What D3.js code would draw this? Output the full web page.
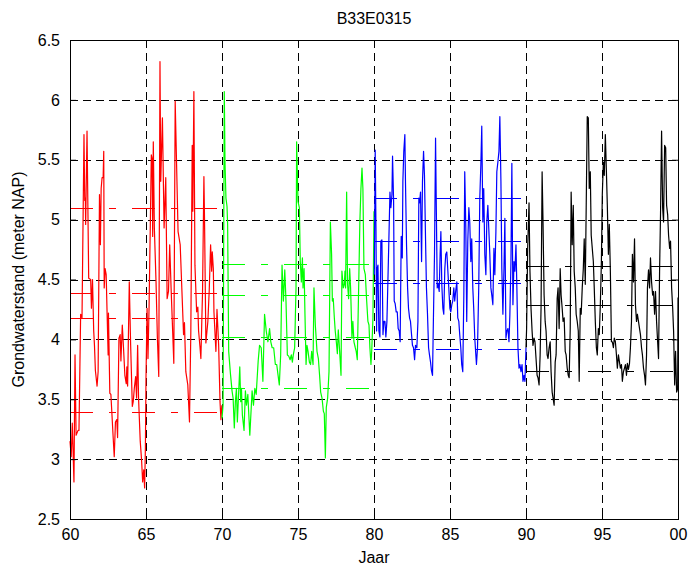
<!DOCTYPE html>
<html>
<head>
<meta charset="utf-8">
<script src="https://cdn.jsdelivr.net/npm/d3@7"></script>
<style>
  body { margin: 0; background: #fff; }
  svg { display: block; }
  text { font-family: "Liberation Sans", Arial, Helvetica, sans-serif; fill: #000; }
</style>
</head>
<body>
<svg id="chart" width="689" height="565"></svg>
<script>
// Labels and ticks
const title = "B33E0315";
const xLabel = "Jaar";
const yLabel = "Grondwaterstand (meter NAP)";
const xTicks = [60, 65, 70, 75, 80, 85, 90, 95, 100];
const xTickLabels = ["60", "65", "70", "75", "80", "85", "90", "95", "00"];
const yTicks = [2.5, 3, 3.5, 4, 4.5, 5, 5.5, 6, 6.5];
const yTickLabels = ["2.5", "3", "3.5", "4", "4.5", "5", "5.5", "6", "6.5"];

// Groundwater level per decade: [year, level (m NAP)]
const series60 = [[60.00,3.15],[60.08,3.02],[60.15,3.30],[60.26,2.81],[60.33,3.87],[60.40,3.20],[60.53,3.24],[60.59,3.24],[60.70,4.21],[60.79,4.18],[60.92,5.71],[60.97,5.16],[61.01,5.18],[61.03,4.96],[61.12,5.74],[61.23,4.51],[61.36,4.50],[61.41,4.26],[61.48,4.50],[61.56,4.07],[61.61,3.95],[61.67,3.74],[61.78,3.61],[61.85,3.73],[61.94,5.21],[62.00,4.79],[62.05,5.26],[62.11,5.35],[62.18,5.35],[62.22,5.57],[62.25,4.43],[62.31,4.59],[62.38,4.54],[62.44,4.22],[62.51,3.87],[62.53,4.22],[62.62,3.55],[62.69,3.54],[62.84,3.18],[62.91,3.02],[62.99,3.31],[63.08,3.33],[63.13,3.18],[63.22,4.01],[63.30,4.04],[63.35,3.82],[63.44,4.12],[63.52,3.93],[63.61,3.70],[63.70,3.63],[63.74,3.77],[63.79,3.61],[63.90,4.48],[63.99,3.95],[64.10,3.44],[64.16,3.48],[64.23,3.59],[64.32,3.69],[64.38,3.51],[64.45,3.95],[64.51,3.51],[64.62,3.15],[64.71,2.99],[64.78,2.81],[64.85,2.91],[64.91,2.76],[64.96,3.09],[65.00,3.68],[65.07,4.26],[65.13,3.84],[65.20,4.26],[65.24,4.59],[65.29,5.01],[65.35,5.54],[65.40,5.51],[65.44,4.86],[65.48,5.65],[65.55,4.93],[65.66,4.48],[65.75,4.01],[65.84,3.69],[65.92,6.32],[65.97,5.32],[66.08,5.85],[66.19,4.93],[66.30,5.35],[66.39,4.34],[66.48,4.40],[66.56,4.79],[66.65,4.43],[66.83,3.80],[66.92,5.99],[67.11,4.90],[67.25,4.79],[67.47,4.04],[67.53,4.14],[67.62,3.73],[67.75,3.62],[67.86,3.31],[67.95,4.07],[68.04,5.62],[68.08,5.07],[68.15,6.07],[68.22,4.62],[68.33,4.23],[68.41,4.27],[68.46,4.07],[68.55,3.94],[68.61,3.84],[68.72,4.40],[68.81,5.36],[68.85,5.01],[68.94,3.97],[69.07,4.15],[69.16,4.41],[69.25,4.79],[69.32,4.57],[69.36,4.73],[69.43,4.59],[69.47,4.23],[69.60,3.90],[69.67,4.25],[69.78,3.95],[69.87,3.48],[69.93,3.33],[69.99,3.45]];

const series70 = [[70.00,3.34],[70.07,3.45],[70.15,6.07],[70.20,5.46],[70.26,5.18],[70.33,5.11],[70.37,4.96],[70.44,3.90],[70.55,3.72],[70.66,3.57],[70.73,3.51],[70.81,3.26],[70.88,3.48],[70.95,3.59],[71.01,3.31],[71.17,3.77],[71.23,3.48],[71.28,3.59],[71.34,3.37],[71.45,3.24],[71.54,3.57],[71.61,3.45],[71.70,3.54],[71.83,3.20],[71.98,3.57],[72.07,3.45],[72.16,3.59],[72.25,3.54],[72.38,3.82],[72.47,3.95],[72.58,3.93],[72.69,3.65],[72.80,4.21],[72.91,4.07],[73.02,3.98],[73.13,4.09],[73.21,3.98],[73.30,3.93],[73.40,3.93],[73.51,3.79],[73.60,3.79],[73.69,3.70],[73.77,3.62],[73.86,3.87],[73.95,4.62],[74.04,4.32],[74.13,4.58],[74.21,4.32],[74.30,3.87],[74.39,3.86],[74.48,3.83],[74.56,3.87],[74.63,3.81],[74.69,3.87],[74.78,3.93],[74.87,4.43],[74.91,5.65],[75.00,5.15],[75.09,5.10],[75.15,4.65],[75.22,4.48],[75.29,4.68],[75.33,4.43],[75.40,4.59],[75.46,4.20],[75.53,3.79],[75.59,3.95],[75.66,3.90],[75.75,3.81],[75.83,3.79],[75.90,3.90],[75.99,3.79],[76.05,4.43],[76.14,4.12],[76.25,3.90],[76.34,3.84],[76.42,3.70],[76.49,3.56],[76.58,3.51],[76.67,3.40],[76.73,3.38],[76.80,3.01],[76.86,3.43],[76.95,3.51],[77.04,3.73],[77.13,4.98],[77.21,4.71],[77.26,4.32],[77.32,4.34],[77.39,4.18],[77.45,4.07],[77.52,3.98],[77.59,3.88],[77.65,4.08],[77.74,3.90],[77.83,3.70],[77.89,4.57],[77.98,4.43],[78.05,4.46],[78.09,4.57],[78.13,4.43],[78.20,5.23],[78.26,4.46],[78.33,4.34],[78.40,4.59],[78.46,4.43],[78.55,4.01],[78.61,4.15],[78.68,3.98],[78.77,3.93],[78.83,3.90],[78.90,3.83],[78.99,4.43],[79.07,4.98],[79.14,5.26],[79.21,5.43],[79.27,5.26],[79.34,4.59],[79.43,4.54],[79.51,4.34],[79.60,4.15],[79.67,4.12],[79.73,3.93],[79.80,3.79],[79.86,3.93],[79.93,4.18],[80.00,5.07]];

const series80 = [[80.02,4.54],[80.08,5.58],[80.13,4.93],[80.17,4.07],[80.21,4.59],[80.26,4.62],[80.32,4.07],[80.39,4.02],[80.45,4.82],[80.52,4.83],[80.59,4.04],[80.65,4.15],[80.72,4.15],[80.78,4.02],[80.85,4.15],[80.91,4.46],[80.98,4.84],[81.05,5.23],[81.11,5.10],[81.18,5.21],[81.22,5.53],[81.29,5.15],[81.33,4.32],[81.39,4.30],[81.46,4.23],[81.53,4.23],[81.59,4.09],[81.66,4.07],[81.72,3.98],[81.79,4.86],[81.86,4.68],[81.90,5.32],[81.96,5.57],[82.03,5.71],[82.07,5.32],[82.14,4.79],[82.21,4.43],[82.27,4.26],[82.34,4.18],[82.40,4.15],[82.47,4.04],[82.53,3.95],[82.60,3.93],[82.67,3.83],[82.73,3.95],[82.82,3.93],[82.89,4.15],[82.95,5.18],[83.00,5.14],[83.06,5.23],[83.13,4.65],[83.19,5.32],[83.26,5.57],[83.32,5.37],[83.39,4.84],[83.45,4.43],[83.52,4.21],[83.59,3.93],[83.65,3.87],[83.72,3.81],[83.78,3.74],[83.85,3.70],[83.91,4.18],[83.98,4.71],[84.05,5.68],[84.09,5.21],[84.16,4.43],[84.22,4.46],[84.29,4.40],[84.35,4.71],[84.40,4.90],[84.46,4.46],[84.53,4.26],[84.59,4.21],[84.66,4.59],[84.72,4.71],[84.79,4.73],[84.86,4.57],[84.92,4.43],[84.99,4.26],[85.05,4.23],[85.12,4.29],[85.18,4.32],[85.25,4.43],[85.31,4.32],[85.38,4.41],[85.45,4.48],[85.51,4.18],[85.58,4.15],[85.64,4.04],[85.71,3.93],[85.77,3.79],[85.84,3.73],[85.91,4.37],[85.97,5.40],[86.04,4.93],[86.10,4.15],[86.17,4.82],[86.24,5.10],[86.30,4.98],[86.37,4.65],[86.43,4.84],[86.50,4.43],[86.56,4.26],[86.63,4.01],[86.74,3.79],[86.81,3.93],[86.89,4.43],[86.96,5.18],[87.03,5.46],[87.09,5.78],[87.16,4.98],[87.22,5.26],[87.29,4.71],[87.36,4.54],[87.42,4.98],[87.49,5.12],[87.55,4.93],[87.62,4.71],[87.69,4.43],[87.75,4.37],[87.82,4.29],[87.89,4.76],[87.95,4.54],[88.02,4.90],[88.08,5.40],[88.15,5.48],[88.22,5.57],[88.28,5.86],[88.35,5.32],[88.41,4.59],[88.48,4.21],[88.55,4.59],[88.61,5.01],[88.68,4.01],[88.74,4.07],[88.81,4.09],[88.88,3.98],[88.94,4.21],[89.01,4.65],[89.07,5.47],[89.14,4.29],[89.21,4.65],[89.27,4.57],[89.34,4.79],[89.40,4.43],[89.47,3.93],[89.54,3.76],[89.60,3.79],[89.67,3.73],[89.74,3.79],[89.80,3.65],[89.87,3.70],[89.93,3.65],[90.00,3.93]];

const series90 = [[90.00,3.93],[90.04,4.09],[90.11,4.76],[90.20,5.14],[90.26,4.57],[90.33,4.26],[90.40,4.07],[90.46,3.95],[90.53,4.01],[90.59,3.98],[90.66,3.84],[90.73,3.70],[90.79,3.68],[90.86,3.62],[90.93,3.87],[90.99,4.26],[91.06,5.40],[91.12,4.98],[91.19,4.37],[91.26,4.15],[91.32,4.07],[91.39,3.87],[91.45,3.84],[91.52,3.93],[91.59,3.98],[91.65,3.73],[91.72,3.56],[91.78,3.51],[91.85,3.45],[91.92,3.81],[91.98,3.87],[92.05,4.34],[92.11,4.43],[92.18,4.09],[92.25,4.59],[92.31,4.37],[92.38,4.26],[92.44,4.15],[92.51,4.18],[92.58,3.90],[92.64,3.87],[92.71,3.76],[92.78,3.70],[92.84,3.68],[92.91,4.09],[92.97,5.23],[93.04,4.79],[93.11,5.12],[93.17,4.57],[93.24,4.43],[93.30,4.21],[93.37,4.15],[93.44,4.07],[93.50,3.65],[93.57,4.26],[93.63,4.21],[93.70,4.43],[93.77,4.59],[93.83,4.84],[93.90,4.46],[93.96,5.10],[94.03,5.86],[94.10,5.85],[94.16,5.26],[94.23,5.40],[94.29,4.87],[94.36,4.76],[94.43,4.65],[94.49,4.43],[94.56,4.15],[94.63,3.93],[94.69,3.87],[94.76,4.09],[94.82,4.04],[94.89,4.29],[94.96,4.65],[95.02,5.21],[95.09,5.48],[95.15,5.37],[95.22,5.71],[95.29,5.40],[95.35,5.12],[95.42,4.71],[95.48,4.96],[95.55,4.57],[95.62,3.98],[95.68,3.98],[95.75,3.93],[95.81,4.01],[95.88,3.98],[95.95,3.87],[96.01,3.76],[96.08,3.87],[96.15,3.81],[96.21,3.76],[96.28,3.79],[96.34,3.65],[96.41,3.73],[96.48,3.76],[96.54,3.79],[96.61,3.70],[96.67,3.80],[96.74,3.75],[96.81,3.80],[96.87,3.93],[96.94,4.15],[97.00,4.71],[97.07,4.48],[97.14,4.84],[97.20,4.29],[97.27,4.15],[97.33,4.21],[97.40,4.15],[97.47,4.09],[97.53,4.04],[97.60,3.93],[97.66,3.87],[97.73,3.76],[97.80,3.70],[97.86,3.62],[97.93,3.87],[97.99,4.43],[98.06,4.58],[98.13,4.43],[98.19,4.68],[98.26,4.48],[98.33,4.37],[98.39,4.40],[98.46,4.21],[98.52,4.40],[98.59,4.15],[98.66,3.98],[98.72,3.84],[98.79,4.59],[98.85,5.04],[98.92,5.74],[98.99,5.10],[99.05,4.98],[99.12,5.62],[99.19,5.60],[99.25,5.12],[99.32,5.04],[99.38,4.87],[99.45,4.76],[99.51,4.82],[99.58,4.43],[99.65,4.26],[99.71,4.07],[99.78,3.62],[99.84,3.90],[99.91,3.56],[99.98,3.59],[100.00,4.35]];

// Characteristic levels per decade (m NAP)
const levels60 = [5.10, 4.39, 4.18, 3.39];
const levels70 = [4.63, 4.37, 4.02, 3.59];
const levels80 = [5.18, 4.82, 4.47, 3.92];
const levels90 = [5.00, 4.61, 4.29, 3.74];

const decades = [
  { start: 60, end: 70, data: series60, levels: levels60, color: "#ff0000" },
  { start: 70, end: 80, data: series70, levels: levels70, color: "#00ff00" },
  { start: 80, end: 90, data: series80, levels: levels80, color: "#0000ff" },
  { start: 90, end: 100, data: series90, levels: levels90, color: "#000000" }
];

const W = 689, H = 565;
const margin = { top: 40, right: 11, bottom: 46, left: 70 };
const innerW = W - margin.left - margin.right;
const innerH = H - margin.top - margin.bottom;

const svg = d3.select("#chart");
const g = svg.append("g").attr("transform", `translate(${margin.left},${margin.top})`);

const x = d3.scaleLinear().domain([60, 100]).range([0, innerW]);
const y = d3.scaleLinear().domain([2.5, 6.5]).range([innerH, 0]);
const crisp = v => Math.round(v) + 0.5;

// dashed grid
const grid = g.append("g").attr("stroke", "#000").attr("stroke-width", 1).attr("stroke-dasharray", "8,5").attr("fill", "none");
xTicks.slice(1, -1).forEach(t => {
  grid.append("line").attr("x1", crisp(x(t))).attr("x2", crisp(x(t))).attr("y1", 0).attr("y2", innerH);
});
yTicks.slice(1, -1).forEach(t => {
  grid.append("line").attr("y1", crisp(y(t))).attr("y2", crisp(y(t))).attr("x1", 0).attr("x2", innerW);
});

// decade series and their characteristic levels
const line = d3.line().x(d => x(d[0])).y(d => y(d[1]));
decades.forEach(dec => {
  dec.levels.forEach(lv => {
    g.append("line")
      .attr("x1", x(dec.start)).attr("x2", x(dec.end))
      .attr("y1", crisp(y(lv))).attr("y2", crisp(y(lv)))
      .attr("stroke", dec.color).attr("stroke-width", 1)
      .attr("stroke-dasharray", "23,16,7,16");
  });
});
decades.forEach(dec => {
  g.append("path").datum(dec.data)
    .attr("d", line)
    .attr("fill", "none")
    .attr("stroke", dec.color)
    .attr("stroke-width", 1.2)
    .attr("stroke-linejoin", "round");
});

// axes with inward ticks on all four sides
const tickLen = 6;
const xAxisB = d3.axisBottom(x).tickValues(xTicks).tickSize(-tickLen).tickPadding(10)
  .tickFormat((d, i) => xTickLabels[i]);
const xAxisT = d3.axisTop(x).tickValues(xTicks).tickSize(-tickLen).tickFormat("");
const yAxisL = d3.axisLeft(y).tickValues(yTicks).tickSize(-tickLen).tickPadding(10)
  .tickFormat((d, i) => yTickLabels[i]);
const yAxisR = d3.axisRight(y).tickValues(yTicks).tickSize(-tickLen).tickFormat("");

function styleAxis(sel) {
  sel.select(".domain").remove();
  sel.selectAll("line").attr("stroke", "#000");
  sel.selectAll("text").attr("font-size", 16).attr("fill", "#000")
     .style("font-family", '"Liberation Sans", Arial, Helvetica, sans-serif');
}
g.append("g").attr("transform", `translate(0,${innerH})`).call(xAxisB).call(styleAxis);
g.append("g").call(xAxisT).call(styleAxis);
g.append("g").call(yAxisL).call(styleAxis);
g.append("g").attr("transform", `translate(${innerW},0)`).call(yAxisR).call(styleAxis);

// frame
g.append("rect").attr("x", 0.5).attr("y", 0.5).attr("width", innerW).attr("height", innerH)
  .attr("fill", "none").attr("stroke", "#000").attr("stroke-width", 1);

// titles
svg.append("text").attr("x", margin.left + innerW / 2).attr("y", 24)
  .attr("text-anchor", "middle").attr("font-size", 16).text(title);
svg.append("text").attr("x", margin.left + innerW / 2).attr("y", 563)
  .attr("text-anchor", "middle").attr("font-size", 16).text(xLabel);
svg.append("text").attr("transform", `translate(24,${margin.top + innerH / 2}) rotate(-90)`)
  .attr("text-anchor", "middle").attr("font-size", 16).text(yLabel);
</script>
</body>
</html>
